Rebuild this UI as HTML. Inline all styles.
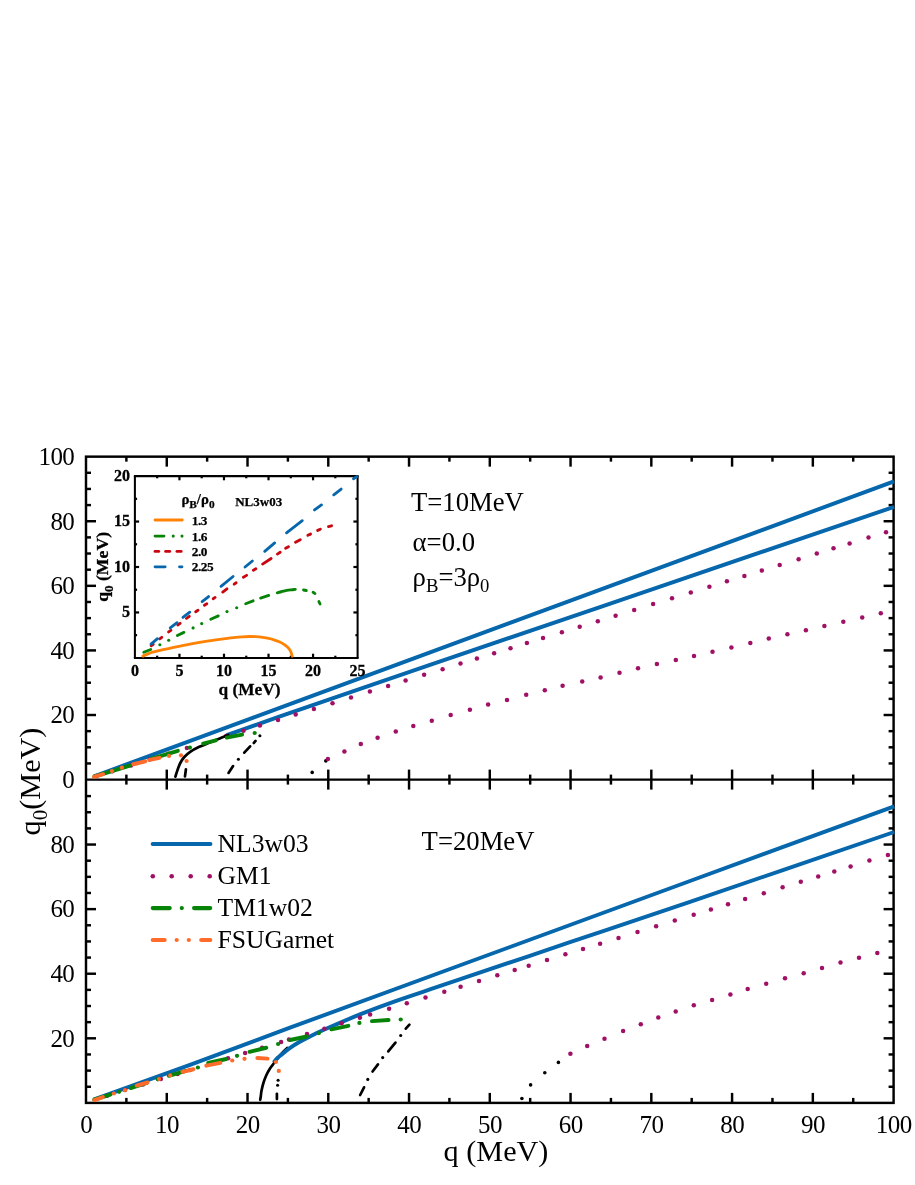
<!DOCTYPE html>
<html><head><meta charset="utf-8"><title>q0 vs q</title>
<style>html,body{margin:0;padding:0;background:#fff;}svg{display:block;will-change:transform;}text{font-family:"Liberation Serif",serif;fill:#000;}</style>
</head><body>
<svg width="915" height="1185" viewBox="0 0 915 1185">
<rect x="0" y="0" width="915" height="1185" fill="#fff"/>
<rect x="86" y="456.65" width="807.6" height="646.25" fill="none" stroke="#000" stroke-width="2.45"/>
<line x1="86" y1="779.6" x2="893.6" y2="779.6" stroke="#000" stroke-width="2.45" stroke-linecap="butt"/>
<line x1="126.38" y1="456.65" x2="126.38" y2="461.65" stroke="#000" stroke-width="2.45" stroke-linecap="butt"/>
<line x1="126.38" y1="774.6" x2="126.38" y2="784.6" stroke="#000" stroke-width="2.45" stroke-linecap="butt"/>
<line x1="126.38" y1="1097.9" x2="126.38" y2="1102.9" stroke="#000" stroke-width="2.45" stroke-linecap="butt"/>
<line x1="166.76" y1="456.65" x2="166.76" y2="466.65" stroke="#000" stroke-width="2.45" stroke-linecap="butt"/>
<line x1="166.76" y1="769.6" x2="166.76" y2="789.6" stroke="#000" stroke-width="2.45" stroke-linecap="butt"/>
<line x1="166.76" y1="1092.9" x2="166.76" y2="1102.9" stroke="#000" stroke-width="2.45" stroke-linecap="butt"/>
<line x1="207.14" y1="456.65" x2="207.14" y2="461.65" stroke="#000" stroke-width="2.45" stroke-linecap="butt"/>
<line x1="207.14" y1="774.6" x2="207.14" y2="784.6" stroke="#000" stroke-width="2.45" stroke-linecap="butt"/>
<line x1="207.14" y1="1097.9" x2="207.14" y2="1102.9" stroke="#000" stroke-width="2.45" stroke-linecap="butt"/>
<line x1="247.52" y1="456.65" x2="247.52" y2="466.65" stroke="#000" stroke-width="2.45" stroke-linecap="butt"/>
<line x1="247.52" y1="769.6" x2="247.52" y2="789.6" stroke="#000" stroke-width="2.45" stroke-linecap="butt"/>
<line x1="247.52" y1="1092.9" x2="247.52" y2="1102.9" stroke="#000" stroke-width="2.45" stroke-linecap="butt"/>
<line x1="287.9" y1="456.65" x2="287.9" y2="461.65" stroke="#000" stroke-width="2.45" stroke-linecap="butt"/>
<line x1="287.9" y1="774.6" x2="287.9" y2="784.6" stroke="#000" stroke-width="2.45" stroke-linecap="butt"/>
<line x1="287.9" y1="1097.9" x2="287.9" y2="1102.9" stroke="#000" stroke-width="2.45" stroke-linecap="butt"/>
<line x1="328.28" y1="456.65" x2="328.28" y2="466.65" stroke="#000" stroke-width="2.45" stroke-linecap="butt"/>
<line x1="328.28" y1="769.6" x2="328.28" y2="789.6" stroke="#000" stroke-width="2.45" stroke-linecap="butt"/>
<line x1="328.28" y1="1092.9" x2="328.28" y2="1102.9" stroke="#000" stroke-width="2.45" stroke-linecap="butt"/>
<line x1="368.66" y1="456.65" x2="368.66" y2="461.65" stroke="#000" stroke-width="2.45" stroke-linecap="butt"/>
<line x1="368.66" y1="774.6" x2="368.66" y2="784.6" stroke="#000" stroke-width="2.45" stroke-linecap="butt"/>
<line x1="368.66" y1="1097.9" x2="368.66" y2="1102.9" stroke="#000" stroke-width="2.45" stroke-linecap="butt"/>
<line x1="409.04" y1="456.65" x2="409.04" y2="466.65" stroke="#000" stroke-width="2.45" stroke-linecap="butt"/>
<line x1="409.04" y1="769.6" x2="409.04" y2="789.6" stroke="#000" stroke-width="2.45" stroke-linecap="butt"/>
<line x1="409.04" y1="1092.9" x2="409.04" y2="1102.9" stroke="#000" stroke-width="2.45" stroke-linecap="butt"/>
<line x1="449.42" y1="456.65" x2="449.42" y2="461.65" stroke="#000" stroke-width="2.45" stroke-linecap="butt"/>
<line x1="449.42" y1="774.6" x2="449.42" y2="784.6" stroke="#000" stroke-width="2.45" stroke-linecap="butt"/>
<line x1="449.42" y1="1097.9" x2="449.42" y2="1102.9" stroke="#000" stroke-width="2.45" stroke-linecap="butt"/>
<line x1="489.8" y1="456.65" x2="489.8" y2="466.65" stroke="#000" stroke-width="2.45" stroke-linecap="butt"/>
<line x1="489.8" y1="769.6" x2="489.8" y2="789.6" stroke="#000" stroke-width="2.45" stroke-linecap="butt"/>
<line x1="489.8" y1="1092.9" x2="489.8" y2="1102.9" stroke="#000" stroke-width="2.45" stroke-linecap="butt"/>
<line x1="530.18" y1="456.65" x2="530.18" y2="461.65" stroke="#000" stroke-width="2.45" stroke-linecap="butt"/>
<line x1="530.18" y1="774.6" x2="530.18" y2="784.6" stroke="#000" stroke-width="2.45" stroke-linecap="butt"/>
<line x1="530.18" y1="1097.9" x2="530.18" y2="1102.9" stroke="#000" stroke-width="2.45" stroke-linecap="butt"/>
<line x1="570.56" y1="456.65" x2="570.56" y2="466.65" stroke="#000" stroke-width="2.45" stroke-linecap="butt"/>
<line x1="570.56" y1="769.6" x2="570.56" y2="789.6" stroke="#000" stroke-width="2.45" stroke-linecap="butt"/>
<line x1="570.56" y1="1092.9" x2="570.56" y2="1102.9" stroke="#000" stroke-width="2.45" stroke-linecap="butt"/>
<line x1="610.94" y1="456.65" x2="610.94" y2="461.65" stroke="#000" stroke-width="2.45" stroke-linecap="butt"/>
<line x1="610.94" y1="774.6" x2="610.94" y2="784.6" stroke="#000" stroke-width="2.45" stroke-linecap="butt"/>
<line x1="610.94" y1="1097.9" x2="610.94" y2="1102.9" stroke="#000" stroke-width="2.45" stroke-linecap="butt"/>
<line x1="651.32" y1="456.65" x2="651.32" y2="466.65" stroke="#000" stroke-width="2.45" stroke-linecap="butt"/>
<line x1="651.32" y1="769.6" x2="651.32" y2="789.6" stroke="#000" stroke-width="2.45" stroke-linecap="butt"/>
<line x1="651.32" y1="1092.9" x2="651.32" y2="1102.9" stroke="#000" stroke-width="2.45" stroke-linecap="butt"/>
<line x1="691.7" y1="456.65" x2="691.7" y2="461.65" stroke="#000" stroke-width="2.45" stroke-linecap="butt"/>
<line x1="691.7" y1="774.6" x2="691.7" y2="784.6" stroke="#000" stroke-width="2.45" stroke-linecap="butt"/>
<line x1="691.7" y1="1097.9" x2="691.7" y2="1102.9" stroke="#000" stroke-width="2.45" stroke-linecap="butt"/>
<line x1="732.08" y1="456.65" x2="732.08" y2="466.65" stroke="#000" stroke-width="2.45" stroke-linecap="butt"/>
<line x1="732.08" y1="769.6" x2="732.08" y2="789.6" stroke="#000" stroke-width="2.45" stroke-linecap="butt"/>
<line x1="732.08" y1="1092.9" x2="732.08" y2="1102.9" stroke="#000" stroke-width="2.45" stroke-linecap="butt"/>
<line x1="772.46" y1="456.65" x2="772.46" y2="461.65" stroke="#000" stroke-width="2.45" stroke-linecap="butt"/>
<line x1="772.46" y1="774.6" x2="772.46" y2="784.6" stroke="#000" stroke-width="2.45" stroke-linecap="butt"/>
<line x1="772.46" y1="1097.9" x2="772.46" y2="1102.9" stroke="#000" stroke-width="2.45" stroke-linecap="butt"/>
<line x1="812.84" y1="456.65" x2="812.84" y2="466.65" stroke="#000" stroke-width="2.45" stroke-linecap="butt"/>
<line x1="812.84" y1="769.6" x2="812.84" y2="789.6" stroke="#000" stroke-width="2.45" stroke-linecap="butt"/>
<line x1="812.84" y1="1092.9" x2="812.84" y2="1102.9" stroke="#000" stroke-width="2.45" stroke-linecap="butt"/>
<line x1="853.22" y1="456.65" x2="853.22" y2="461.65" stroke="#000" stroke-width="2.45" stroke-linecap="butt"/>
<line x1="853.22" y1="774.6" x2="853.22" y2="784.6" stroke="#000" stroke-width="2.45" stroke-linecap="butt"/>
<line x1="853.22" y1="1097.9" x2="853.22" y2="1102.9" stroke="#000" stroke-width="2.45" stroke-linecap="butt"/>
<line x1="86" y1="763.45" x2="91" y2="763.45" stroke="#000" stroke-width="2.45" stroke-linecap="butt"/>
<line x1="888.6" y1="763.45" x2="893.6" y2="763.45" stroke="#000" stroke-width="2.45" stroke-linecap="butt"/>
<line x1="86" y1="747.31" x2="91" y2="747.31" stroke="#000" stroke-width="2.45" stroke-linecap="butt"/>
<line x1="888.6" y1="747.31" x2="893.6" y2="747.31" stroke="#000" stroke-width="2.45" stroke-linecap="butt"/>
<line x1="86" y1="731.16" x2="91" y2="731.16" stroke="#000" stroke-width="2.45" stroke-linecap="butt"/>
<line x1="888.6" y1="731.16" x2="893.6" y2="731.16" stroke="#000" stroke-width="2.45" stroke-linecap="butt"/>
<line x1="86" y1="715.01" x2="96" y2="715.01" stroke="#000" stroke-width="2.45" stroke-linecap="butt"/>
<line x1="883.6" y1="715.01" x2="893.6" y2="715.01" stroke="#000" stroke-width="2.45" stroke-linecap="butt"/>
<line x1="86" y1="698.86" x2="91" y2="698.86" stroke="#000" stroke-width="2.45" stroke-linecap="butt"/>
<line x1="888.6" y1="698.86" x2="893.6" y2="698.86" stroke="#000" stroke-width="2.45" stroke-linecap="butt"/>
<line x1="86" y1="682.72" x2="91" y2="682.72" stroke="#000" stroke-width="2.45" stroke-linecap="butt"/>
<line x1="888.6" y1="682.72" x2="893.6" y2="682.72" stroke="#000" stroke-width="2.45" stroke-linecap="butt"/>
<line x1="86" y1="666.57" x2="91" y2="666.57" stroke="#000" stroke-width="2.45" stroke-linecap="butt"/>
<line x1="888.6" y1="666.57" x2="893.6" y2="666.57" stroke="#000" stroke-width="2.45" stroke-linecap="butt"/>
<line x1="86" y1="650.42" x2="96" y2="650.42" stroke="#000" stroke-width="2.45" stroke-linecap="butt"/>
<line x1="883.6" y1="650.42" x2="893.6" y2="650.42" stroke="#000" stroke-width="2.45" stroke-linecap="butt"/>
<line x1="86" y1="634.27" x2="91" y2="634.27" stroke="#000" stroke-width="2.45" stroke-linecap="butt"/>
<line x1="888.6" y1="634.27" x2="893.6" y2="634.27" stroke="#000" stroke-width="2.45" stroke-linecap="butt"/>
<line x1="86" y1="618.12" x2="91" y2="618.12" stroke="#000" stroke-width="2.45" stroke-linecap="butt"/>
<line x1="888.6" y1="618.12" x2="893.6" y2="618.12" stroke="#000" stroke-width="2.45" stroke-linecap="butt"/>
<line x1="86" y1="601.98" x2="91" y2="601.98" stroke="#000" stroke-width="2.45" stroke-linecap="butt"/>
<line x1="888.6" y1="601.98" x2="893.6" y2="601.98" stroke="#000" stroke-width="2.45" stroke-linecap="butt"/>
<line x1="86" y1="585.83" x2="96" y2="585.83" stroke="#000" stroke-width="2.45" stroke-linecap="butt"/>
<line x1="883.6" y1="585.83" x2="893.6" y2="585.83" stroke="#000" stroke-width="2.45" stroke-linecap="butt"/>
<line x1="86" y1="569.68" x2="91" y2="569.68" stroke="#000" stroke-width="2.45" stroke-linecap="butt"/>
<line x1="888.6" y1="569.68" x2="893.6" y2="569.68" stroke="#000" stroke-width="2.45" stroke-linecap="butt"/>
<line x1="86" y1="553.53" x2="91" y2="553.53" stroke="#000" stroke-width="2.45" stroke-linecap="butt"/>
<line x1="888.6" y1="553.53" x2="893.6" y2="553.53" stroke="#000" stroke-width="2.45" stroke-linecap="butt"/>
<line x1="86" y1="537.39" x2="91" y2="537.39" stroke="#000" stroke-width="2.45" stroke-linecap="butt"/>
<line x1="888.6" y1="537.39" x2="893.6" y2="537.39" stroke="#000" stroke-width="2.45" stroke-linecap="butt"/>
<line x1="86" y1="521.24" x2="96" y2="521.24" stroke="#000" stroke-width="2.45" stroke-linecap="butt"/>
<line x1="883.6" y1="521.24" x2="893.6" y2="521.24" stroke="#000" stroke-width="2.45" stroke-linecap="butt"/>
<line x1="86" y1="505.09" x2="91" y2="505.09" stroke="#000" stroke-width="2.45" stroke-linecap="butt"/>
<line x1="888.6" y1="505.09" x2="893.6" y2="505.09" stroke="#000" stroke-width="2.45" stroke-linecap="butt"/>
<line x1="86" y1="488.94" x2="91" y2="488.94" stroke="#000" stroke-width="2.45" stroke-linecap="butt"/>
<line x1="888.6" y1="488.94" x2="893.6" y2="488.94" stroke="#000" stroke-width="2.45" stroke-linecap="butt"/>
<line x1="86" y1="472.8" x2="91" y2="472.8" stroke="#000" stroke-width="2.45" stroke-linecap="butt"/>
<line x1="888.6" y1="472.8" x2="893.6" y2="472.8" stroke="#000" stroke-width="2.45" stroke-linecap="butt"/>
<line x1="86" y1="1086.75" x2="91" y2="1086.75" stroke="#000" stroke-width="2.45" stroke-linecap="butt"/>
<line x1="888.6" y1="1086.75" x2="893.6" y2="1086.75" stroke="#000" stroke-width="2.45" stroke-linecap="butt"/>
<line x1="86" y1="1070.61" x2="91" y2="1070.61" stroke="#000" stroke-width="2.45" stroke-linecap="butt"/>
<line x1="888.6" y1="1070.61" x2="893.6" y2="1070.61" stroke="#000" stroke-width="2.45" stroke-linecap="butt"/>
<line x1="86" y1="1054.46" x2="91" y2="1054.46" stroke="#000" stroke-width="2.45" stroke-linecap="butt"/>
<line x1="888.6" y1="1054.46" x2="893.6" y2="1054.46" stroke="#000" stroke-width="2.45" stroke-linecap="butt"/>
<line x1="86" y1="1038.31" x2="96" y2="1038.31" stroke="#000" stroke-width="2.45" stroke-linecap="butt"/>
<line x1="883.6" y1="1038.31" x2="893.6" y2="1038.31" stroke="#000" stroke-width="2.45" stroke-linecap="butt"/>
<line x1="86" y1="1022.16" x2="91" y2="1022.16" stroke="#000" stroke-width="2.45" stroke-linecap="butt"/>
<line x1="888.6" y1="1022.16" x2="893.6" y2="1022.16" stroke="#000" stroke-width="2.45" stroke-linecap="butt"/>
<line x1="86" y1="1006.02" x2="91" y2="1006.02" stroke="#000" stroke-width="2.45" stroke-linecap="butt"/>
<line x1="888.6" y1="1006.02" x2="893.6" y2="1006.02" stroke="#000" stroke-width="2.45" stroke-linecap="butt"/>
<line x1="86" y1="989.87" x2="91" y2="989.87" stroke="#000" stroke-width="2.45" stroke-linecap="butt"/>
<line x1="888.6" y1="989.87" x2="893.6" y2="989.87" stroke="#000" stroke-width="2.45" stroke-linecap="butt"/>
<line x1="86" y1="973.72" x2="96" y2="973.72" stroke="#000" stroke-width="2.45" stroke-linecap="butt"/>
<line x1="883.6" y1="973.72" x2="893.6" y2="973.72" stroke="#000" stroke-width="2.45" stroke-linecap="butt"/>
<line x1="86" y1="957.57" x2="91" y2="957.57" stroke="#000" stroke-width="2.45" stroke-linecap="butt"/>
<line x1="888.6" y1="957.57" x2="893.6" y2="957.57" stroke="#000" stroke-width="2.45" stroke-linecap="butt"/>
<line x1="86" y1="941.43" x2="91" y2="941.43" stroke="#000" stroke-width="2.45" stroke-linecap="butt"/>
<line x1="888.6" y1="941.43" x2="893.6" y2="941.43" stroke="#000" stroke-width="2.45" stroke-linecap="butt"/>
<line x1="86" y1="925.28" x2="91" y2="925.28" stroke="#000" stroke-width="2.45" stroke-linecap="butt"/>
<line x1="888.6" y1="925.28" x2="893.6" y2="925.28" stroke="#000" stroke-width="2.45" stroke-linecap="butt"/>
<line x1="86" y1="909.13" x2="96" y2="909.13" stroke="#000" stroke-width="2.45" stroke-linecap="butt"/>
<line x1="883.6" y1="909.13" x2="893.6" y2="909.13" stroke="#000" stroke-width="2.45" stroke-linecap="butt"/>
<line x1="86" y1="892.98" x2="91" y2="892.98" stroke="#000" stroke-width="2.45" stroke-linecap="butt"/>
<line x1="888.6" y1="892.98" x2="893.6" y2="892.98" stroke="#000" stroke-width="2.45" stroke-linecap="butt"/>
<line x1="86" y1="876.84" x2="91" y2="876.84" stroke="#000" stroke-width="2.45" stroke-linecap="butt"/>
<line x1="888.6" y1="876.84" x2="893.6" y2="876.84" stroke="#000" stroke-width="2.45" stroke-linecap="butt"/>
<line x1="86" y1="860.69" x2="91" y2="860.69" stroke="#000" stroke-width="2.45" stroke-linecap="butt"/>
<line x1="888.6" y1="860.69" x2="893.6" y2="860.69" stroke="#000" stroke-width="2.45" stroke-linecap="butt"/>
<line x1="86" y1="844.54" x2="96" y2="844.54" stroke="#000" stroke-width="2.45" stroke-linecap="butt"/>
<line x1="883.6" y1="844.54" x2="893.6" y2="844.54" stroke="#000" stroke-width="2.45" stroke-linecap="butt"/>
<line x1="86" y1="828.39" x2="91" y2="828.39" stroke="#000" stroke-width="2.45" stroke-linecap="butt"/>
<line x1="888.6" y1="828.39" x2="893.6" y2="828.39" stroke="#000" stroke-width="2.45" stroke-linecap="butt"/>
<line x1="86" y1="812.25" x2="91" y2="812.25" stroke="#000" stroke-width="2.45" stroke-linecap="butt"/>
<line x1="888.6" y1="812.25" x2="893.6" y2="812.25" stroke="#000" stroke-width="2.45" stroke-linecap="butt"/>
<line x1="86" y1="796.1" x2="91" y2="796.1" stroke="#000" stroke-width="2.45" stroke-linecap="butt"/>
<line x1="888.6" y1="796.1" x2="893.6" y2="796.1" stroke="#000" stroke-width="2.45" stroke-linecap="butt"/>
<polyline points="93.6,776.5 894,481.4" fill="none" stroke="#0667ad" stroke-width="3.95" stroke-linecap="butt" stroke-linejoin="round" />
<polyline points="226.5,735.3 228.2,734.7 280,716.3 430,664.9 600,607.1 894,506.9" fill="none" stroke="#0667ad" stroke-width="3.95" stroke-linecap="butt" stroke-linejoin="round" />
<circle cx="96.5" cy="776.05" r="2.25" fill="#a01065"/>
<circle cx="112.3" cy="771.17" r="2.25" fill="#a01065"/>
<circle cx="131" cy="765.39" r="2.25" fill="#a01065"/>
<circle cx="149.7" cy="759.62" r="2.25" fill="#a01065"/>
<circle cx="168.4" cy="753.84" r="2.25" fill="#a01065"/>
<circle cx="186.9" cy="748.12" r="2.25" fill="#a01065"/>
<circle cx="226.2" cy="735.98" r="2.25" fill="#a01065"/>
<circle cx="243.5" cy="730.64" r="2.25" fill="#a01065"/>
<circle cx="259.9" cy="725.57" r="2.25" fill="#a01065"/>
<circle cx="278" cy="719.98" r="2.25" fill="#a01065"/>
<circle cx="295.7" cy="714.51" r="2.25" fill="#a01065"/>
<circle cx="313.9" cy="708.89" r="2.25" fill="#a01065"/>
<circle cx="332.5" cy="703.14" r="2.25" fill="#a01065"/>
<circle cx="351" cy="697.43" r="2.25" fill="#a01065"/>
<circle cx="369.9" cy="691.59" r="2.25" fill="#a01065"/>
<circle cx="388.1" cy="685.97" r="2.25" fill="#a01065"/>
<circle cx="405.6" cy="680.56" r="2.25" fill="#a01065"/>
<circle cx="424.1" cy="674.85" r="2.25" fill="#a01065"/>
<circle cx="442.6" cy="669.13" r="2.25" fill="#a01065"/>
<circle cx="460.5" cy="663.6" r="2.25" fill="#a01065"/>
<circle cx="476.9" cy="658.53" r="2.25" fill="#a01065"/>
<circle cx="494.1" cy="653.22" r="2.25" fill="#a01065"/>
<circle cx="510.5" cy="648.15" r="2.25" fill="#a01065"/>
<circle cx="526.9" cy="643.09" r="2.25" fill="#a01065"/>
<circle cx="543" cy="638.11" r="2.25" fill="#a01065"/>
<circle cx="561.9" cy="632.28" r="2.25" fill="#a01065"/>
<circle cx="579.7" cy="626.78" r="2.25" fill="#a01065"/>
<circle cx="597.8" cy="621.18" r="2.25" fill="#a01065"/>
<circle cx="615.6" cy="615.69" r="2.25" fill="#a01065"/>
<circle cx="634.2" cy="609.94" r="2.25" fill="#a01065"/>
<circle cx="653.1" cy="604.1" r="2.25" fill="#a01065"/>
<circle cx="672" cy="598.26" r="2.25" fill="#a01065"/>
<circle cx="690.8" cy="592.45" r="2.25" fill="#a01065"/>
<circle cx="709.4" cy="586.71" r="2.25" fill="#a01065"/>
<circle cx="726.9" cy="581.3" r="2.25" fill="#a01065"/>
<circle cx="744.4" cy="575.89" r="2.25" fill="#a01065"/>
<circle cx="761.8" cy="570.52" r="2.25" fill="#a01065"/>
<circle cx="779.7" cy="564.99" r="2.25" fill="#a01065"/>
<circle cx="798.6" cy="559.15" r="2.25" fill="#a01065"/>
<circle cx="816.8" cy="553.53" r="2.25" fill="#a01065"/>
<circle cx="833.5" cy="548.37" r="2.25" fill="#a01065"/>
<circle cx="849.6" cy="543.4" r="2.25" fill="#a01065"/>
<circle cx="868.5" cy="537.56" r="2.25" fill="#a01065"/>
<circle cx="886" cy="532.15" r="2.25" fill="#a01065"/>
<circle cx="312.2" cy="772.4" r="1.8" fill="#000"/>
<circle cx="325.8" cy="760.9" r="1.8" fill="#000"/>
<circle cx="327.9" cy="759.1" r="2.25" fill="#a01065"/>
<circle cx="344.4" cy="751.5" r="2.25" fill="#a01065"/>
<circle cx="360.8" cy="744.1" r="2.25" fill="#a01065"/>
<circle cx="377.6" cy="737.8" r="2.25" fill="#a01065"/>
<circle cx="395.8" cy="731.5" r="2.25" fill="#a01065"/>
<circle cx="413.3" cy="725.9" r="2.25" fill="#a01065"/>
<circle cx="431.8" cy="720.7" r="2.25" fill="#a01065"/>
<circle cx="450.7" cy="715.1" r="2.25" fill="#a01065"/>
<circle cx="469.9" cy="709.8" r="2.25" fill="#a01065"/>
<circle cx="488.1" cy="704.6" r="2.25" fill="#a01065"/>
<circle cx="507" cy="700" r="2.25" fill="#a01065"/>
<circle cx="526.2" cy="694.8" r="2.25" fill="#a01065"/>
<circle cx="544.8" cy="690.2" r="2.25" fill="#a01065"/>
<circle cx="562.6" cy="685.7" r="2.25" fill="#a01065"/>
<circle cx="582.2" cy="681.5" r="2.25" fill="#a01065"/>
<circle cx="600.6" cy="677.5" r="2.25" fill="#a01065"/>
<circle cx="619.5" cy="672.8" r="2.25" fill="#a01065"/>
<circle cx="638" cy="668.3" r="2.25" fill="#a01065"/>
<circle cx="656.9" cy="663.9" r="2.25" fill="#a01065"/>
<circle cx="675.8" cy="659.9" r="2.25" fill="#a01065"/>
<circle cx="694" cy="656" r="2.25" fill="#a01065"/>
<circle cx="712.5" cy="651.8" r="2.25" fill="#a01065"/>
<circle cx="731.4" cy="647.5" r="2.25" fill="#a01065"/>
<circle cx="750.3" cy="642.9" r="2.25" fill="#a01065"/>
<circle cx="768.8" cy="638.6" r="2.25" fill="#a01065"/>
<circle cx="787.4" cy="634.3" r="2.25" fill="#a01065"/>
<circle cx="805.9" cy="630.3" r="2.25" fill="#a01065"/>
<circle cx="824.4" cy="626" r="2.25" fill="#a01065"/>
<circle cx="843.3" cy="621.7" r="2.25" fill="#a01065"/>
<circle cx="862.2" cy="617.5" r="2.25" fill="#a01065"/>
<circle cx="880.8" cy="613.3" r="2.25" fill="#a01065"/>
<path d="M175.4,776.6 C175.48,776.33 175.52,776.18 175.9,775 C176.28,773.82 176.97,771.5 177.7,769.5 C178.43,767.5 179.2,765.08 180.3,763 C181.4,760.92 182.65,758.87 184.3,757 C185.95,755.13 187.7,753.5 190.2,751.8 C192.7,750.1 196.03,748.35 199.3,746.8 C202.57,745.25 206.3,743.93 209.8,742.5 C213.3,741.07 217.23,739.45 220.3,738.2 C223.37,736.95 226.88,735.53 228.2,735" fill="none" stroke="#000" stroke-width="2.7" stroke-linecap="round" stroke-linejoin="round"/>
<line x1="184.97" y1="776.35" x2="185.93" y2="769.25" stroke="#000" stroke-width="2.7" stroke-linecap="round"/>
<circle cx="259.9" cy="735.7" r="1.55" fill="#000"/>
<line x1="255.55" y1="740.92" x2="253.85" y2="742.98" stroke="#000" stroke-width="2.7" stroke-linecap="round"/>
<line x1="250.13" y1="746.31" x2="244.27" y2="752.69" stroke="#000" stroke-width="2.7" stroke-linecap="round"/>
<circle cx="238.4" cy="759.3" r="1.55" fill="#000"/>
<line x1="233.09" y1="766.06" x2="228.51" y2="772.94" stroke="#000" stroke-width="2.7" stroke-linecap="round"/>
<line x1="94.12" y1="776.65" x2="129.88" y2="765.65" stroke="#078307" stroke-width="3.95" stroke-linecap="round"/>
<line x1="151.13" y1="758.86" x2="177.87" y2="750.84" stroke="#078307" stroke-width="3.95" stroke-linecap="round"/>
<circle cx="189.9" cy="747.6" r="2.12" fill="#078307"/>
<line x1="203.14" y1="743.6" x2="215.86" y2="740.3" stroke="#078307" stroke-width="3.95" stroke-linecap="round"/>
<line x1="226.75" y1="737.58" x2="242.15" y2="734.62" stroke="#078307" stroke-width="3.95" stroke-linecap="round"/>
<circle cx="254.7" cy="733" r="2.12" fill="#078307"/>
<line x1="94.02" y1="776.95" x2="103.08" y2="774.15" stroke="#ff6b2a" stroke-width="3.95" stroke-linecap="round"/>
<circle cx="112" cy="771.1" r="2.12" fill="#ff6b2a"/>
<circle cx="121.9" cy="767.7" r="2.12" fill="#ff6b2a"/>
<line x1="133.34" y1="764.23" x2="145.36" y2="761.37" stroke="#ff6b2a" stroke-width="3.95" stroke-linecap="round"/>
<line x1="149.55" y1="759.87" x2="159.55" y2="757.83" stroke="#ff6b2a" stroke-width="3.95" stroke-linecap="round"/>
<circle cx="169" cy="755.9" r="2.12" fill="#ff6b2a"/>
<circle cx="181" cy="755.3" r="2.12" fill="#ff6b2a"/>
<circle cx="186.6" cy="761" r="2.12" fill="#ff6b2a"/>
<polyline points="93.6,1099.7 190,1064.8 290,1027.7 450,969 690,881 894.2,806.3" fill="none" stroke="#0667ad" stroke-width="3.95" stroke-linecap="butt" stroke-linejoin="round" />
<path d="M260.2,1099.8 C260.3,1099.2 260.58,1097.7 260.8,1096.2 C261.02,1094.7 261.07,1093 261.5,1090.8 C261.93,1088.6 262.63,1085.52 263.4,1083 C264.17,1080.48 265,1078.12 266.1,1075.7 C267.2,1073.28 268.7,1070.57 270,1068.5 C271.3,1066.43 272.65,1065 273.9,1063.3 C275.15,1061.6 276.18,1059.95 277.5,1058.3 C278.82,1056.65 280.18,1055.12 281.8,1053.4 C283.42,1051.68 286.3,1048.9 287.2,1048" fill="none" stroke="#000" stroke-width="2.7" stroke-linecap="round" stroke-linejoin="round"/>
<path d="M273.6,1062.6 C274.25,1061.83 276.13,1059.37 277.5,1058 C278.87,1056.63 279.77,1056.03 281.8,1054.4 C283.83,1052.77 286.85,1050.22 289.7,1048.2 C292.55,1046.18 295.52,1044.27 298.9,1042.3 C302.28,1040.33 305.65,1038.57 310,1036.4 C314.35,1034.23 316.67,1032.97 325,1029.3 C333.33,1025.63 348.35,1019.07 360,1014.4 C371.65,1009.73 379.9,1006.58 394.9,1001.3 C409.9,996.02 420.82,992.55 450,982.7 C479.18,972.85 530,955.68 570,942.2 C610,928.72 635.97,920.17 690,901.8 C744.03,883.43 860.17,843.63 894.2,832" fill="none" stroke="#0667ad" stroke-width="3.95" stroke-linecap="butt" stroke-linejoin="round"/>
<circle cx="107.1" cy="1095.64" r="2.25" fill="#a01065"/>
<circle cx="125" cy="1090.12" r="2.25" fill="#a01065"/>
<circle cx="142.9" cy="1084.6" r="2.25" fill="#a01065"/>
<circle cx="160.8" cy="1079.08" r="2.25" fill="#a01065"/>
<circle cx="177.6" cy="1073.9" r="2.25" fill="#a01065"/>
<circle cx="190" cy="1070.08" r="2.25" fill="#a01065"/>
<circle cx="211.2" cy="1063.54" r="2.25" fill="#a01065"/>
<circle cx="228" cy="1058.36" r="2.25" fill="#a01065"/>
<circle cx="245.1" cy="1053.09" r="2.25" fill="#a01065"/>
<circle cx="262.1" cy="1047.85" r="2.25" fill="#a01065"/>
<circle cx="281.1" cy="1041.99" r="2.25" fill="#a01065"/>
<circle cx="289" cy="1039.55" r="2.25" fill="#a01065"/>
<circle cx="307" cy="1034" r="2.25" fill="#a01065"/>
<circle cx="324.4" cy="1028.64" r="2.25" fill="#a01065"/>
<circle cx="341.6" cy="1023.34" r="2.25" fill="#a01065"/>
<circle cx="359.9" cy="1017.69" r="2.25" fill="#a01065"/>
<circle cx="370.1" cy="1014.55" r="2.25" fill="#a01065"/>
<circle cx="389.1" cy="1008.69" r="2.25" fill="#a01065"/>
<circle cx="406.8" cy="1003.23" r="2.25" fill="#a01065"/>
<circle cx="425.5" cy="997.47" r="2.25" fill="#a01065"/>
<circle cx="444.3" cy="991.67" r="2.25" fill="#a01065"/>
<circle cx="460.6" cy="986.65" r="2.25" fill="#a01065"/>
<circle cx="479" cy="980.97" r="2.25" fill="#a01065"/>
<circle cx="497.3" cy="975.33" r="2.25" fill="#a01065"/>
<circle cx="514.7" cy="969.97" r="2.25" fill="#a01065"/>
<circle cx="528.7" cy="965.65" r="2.25" fill="#a01065"/>
<circle cx="547" cy="960.01" r="2.25" fill="#a01065"/>
<circle cx="565.4" cy="954.33" r="2.25" fill="#a01065"/>
<circle cx="583" cy="948.91" r="2.25" fill="#a01065"/>
<circle cx="600.1" cy="943.63" r="2.25" fill="#a01065"/>
<circle cx="618.5" cy="937.96" r="2.25" fill="#a01065"/>
<circle cx="637.5" cy="932.1" r="2.25" fill="#a01065"/>
<circle cx="656.1" cy="926.37" r="2.25" fill="#a01065"/>
<circle cx="674.8" cy="920.6" r="2.25" fill="#a01065"/>
<circle cx="693.7" cy="914.78" r="2.25" fill="#a01065"/>
<circle cx="710.9" cy="909.47" r="2.25" fill="#a01065"/>
<circle cx="728" cy="904.2" r="2.25" fill="#a01065"/>
<circle cx="745.1" cy="898.93" r="2.25" fill="#a01065"/>
<circle cx="763.8" cy="893.16" r="2.25" fill="#a01065"/>
<circle cx="782.6" cy="887.37" r="2.25" fill="#a01065"/>
<circle cx="800.8" cy="881.75" r="2.25" fill="#a01065"/>
<circle cx="818.2" cy="876.39" r="2.25" fill="#a01065"/>
<circle cx="834.3" cy="871.43" r="2.25" fill="#a01065"/>
<circle cx="850.6" cy="866.4" r="2.25" fill="#a01065"/>
<circle cx="869.4" cy="860.6" r="2.25" fill="#a01065"/>
<circle cx="887.9" cy="854.9" r="2.25" fill="#a01065"/>
<circle cx="521.9" cy="1098.5" r="1.8" fill="#000"/>
<circle cx="530.6" cy="1084.9" r="1.8" fill="#000"/>
<circle cx="544.8" cy="1072.7" r="1.8" fill="#000"/>
<circle cx="558.4" cy="1062.4" r="1.8" fill="#000"/>
<circle cx="570.4" cy="1053.7" r="2.25" fill="#a01065"/>
<circle cx="587.2" cy="1046" r="2.25" fill="#a01065"/>
<circle cx="604.5" cy="1038.8" r="2.25" fill="#a01065"/>
<circle cx="623.1" cy="1030.9" r="2.25" fill="#a01065"/>
<circle cx="640.8" cy="1024.2" r="2.25" fill="#a01065"/>
<circle cx="658.3" cy="1017.6" r="2.25" fill="#a01065"/>
<circle cx="675.7" cy="1011.5" r="2.25" fill="#a01065"/>
<circle cx="693.8" cy="1005.3" r="2.25" fill="#a01065"/>
<circle cx="712.1" cy="999.9" r="2.25" fill="#a01065"/>
<circle cx="730.4" cy="994.4" r="2.25" fill="#a01065"/>
<circle cx="747.7" cy="989.1" r="2.25" fill="#a01065"/>
<circle cx="766.2" cy="983.8" r="2.25" fill="#a01065"/>
<circle cx="785" cy="978.3" r="2.25" fill="#a01065"/>
<circle cx="803.7" cy="973.2" r="2.25" fill="#a01065"/>
<circle cx="822" cy="967.9" r="2.25" fill="#a01065"/>
<circle cx="840.5" cy="962.6" r="2.25" fill="#a01065"/>
<circle cx="859" cy="957.8" r="2.25" fill="#a01065"/>
<circle cx="877.3" cy="953" r="2.25" fill="#a01065"/>
<circle cx="278.1" cy="1080.3" r="1.55" fill="#000"/>
<circle cx="277.6" cy="1085.3" r="1.55" fill="#000"/>
<line x1="276.9" y1="1093.75" x2="276.9" y2="1099.05" stroke="#000" stroke-width="2.7" stroke-linecap="round"/>
<line x1="409.43" y1="1024.71" x2="405.77" y2="1028.69" stroke="#000" stroke-width="2.7" stroke-linecap="round"/>
<circle cx="400.7" cy="1035.5" r="1.55" fill="#000"/>
<line x1="395.45" y1="1042.62" x2="388.25" y2="1051.38" stroke="#000" stroke-width="2.7" stroke-linecap="round"/>
<circle cx="382.7" cy="1057.6" r="1.55" fill="#000"/>
<line x1="377.96" y1="1064.44" x2="372.54" y2="1071.46" stroke="#000" stroke-width="2.7" stroke-linecap="round"/>
<circle cx="367.8" cy="1079.4" r="1.55" fill="#000"/>
<line x1="364.05" y1="1087.29" x2="360.15" y2="1095.01" stroke="#000" stroke-width="2.7" stroke-linecap="round"/>
<line x1="94.12" y1="1099.65" x2="110.38" y2="1094.55" stroke="#078307" stroke-width="3.95" stroke-linecap="round"/>
<circle cx="119.1" cy="1091.8" r="2.12" fill="#078307"/>
<line x1="130.72" y1="1088.05" x2="146.88" y2="1082.95" stroke="#078307" stroke-width="3.95" stroke-linecap="round"/>
<circle cx="157.8" cy="1079.3" r="2.12" fill="#078307"/>
<line x1="168.73" y1="1075.78" x2="185.87" y2="1070.92" stroke="#078307" stroke-width="3.95" stroke-linecap="round"/>
<circle cx="197.9" cy="1067.5" r="2.12" fill="#078307"/>
<line x1="208.15" y1="1063.04" x2="226.25" y2="1058.96" stroke="#078307" stroke-width="3.95" stroke-linecap="round"/>
<circle cx="237" cy="1055.8" r="2.12" fill="#078307"/>
<line x1="249.54" y1="1051.82" x2="266.26" y2="1047.78" stroke="#078307" stroke-width="3.95" stroke-linecap="round"/>
<circle cx="278.1" cy="1044" r="2.12" fill="#078307"/>
<line x1="290.15" y1="1040.05" x2="306.85" y2="1036.45" stroke="#078307" stroke-width="3.95" stroke-linecap="round"/>
<circle cx="318.9" cy="1033.1" r="2.12" fill="#078307"/>
<line x1="331.35" y1="1029.36" x2="348.35" y2="1025.84" stroke="#078307" stroke-width="3.95" stroke-linecap="round"/>
<circle cx="359.4" cy="1022.9" r="2.12" fill="#078307"/>
<line x1="371.97" y1="1021.13" x2="388.53" y2="1020.07" stroke="#078307" stroke-width="3.95" stroke-linecap="round"/>
<circle cx="400.7" cy="1019.5" r="2.12" fill="#078307"/>
<line x1="94.31" y1="1100.02" x2="102.89" y2="1097.08" stroke="#ff6b2a" stroke-width="3.95" stroke-linecap="round"/>
<circle cx="113.9" cy="1093.5" r="2.12" fill="#ff6b2a"/>
<circle cx="125" cy="1090.2" r="2.12" fill="#ff6b2a"/>
<line x1="136.63" y1="1085.58" x2="147.47" y2="1082.52" stroke="#ff6b2a" stroke-width="3.95" stroke-linecap="round"/>
<circle cx="159.1" cy="1079.1" r="2.12" fill="#ff6b2a"/>
<circle cx="170.2" cy="1075.4" r="2.12" fill="#ff6b2a"/>
<line x1="182.54" y1="1071.83" x2="193.46" y2="1069.27" stroke="#ff6b2a" stroke-width="3.95" stroke-linecap="round"/>
<line x1="206.25" y1="1065.67" x2="220.35" y2="1062.83" stroke="#ff6b2a" stroke-width="3.95" stroke-linecap="round"/>
<circle cx="232.2" cy="1060.5" r="2.12" fill="#ff6b2a"/>
<circle cx="244.5" cy="1058.8" r="2.12" fill="#ff6b2a"/>
<line x1="257.37" y1="1058.07" x2="267.53" y2="1058.63" stroke="#ff6b2a" stroke-width="3.95" stroke-linecap="round"/>
<circle cx="275.9" cy="1062" r="2.12" fill="#ff6b2a"/>
<circle cx="278.8" cy="1070.9" r="2.12" fill="#ff6b2a"/>
<text x="86.25" y="1133.2" font-size="25" text-anchor="middle" font-weight="normal" letter-spacing="-0.5">0</text>
<text x="167.01" y="1133.2" font-size="25" text-anchor="middle" font-weight="normal" letter-spacing="-0.5">10</text>
<text x="247.77" y="1133.2" font-size="25" text-anchor="middle" font-weight="normal" letter-spacing="-0.5">20</text>
<text x="328.53" y="1133.2" font-size="25" text-anchor="middle" font-weight="normal" letter-spacing="-0.5">30</text>
<text x="409.29" y="1133.2" font-size="25" text-anchor="middle" font-weight="normal" letter-spacing="-0.5">40</text>
<text x="490.05" y="1133.2" font-size="25" text-anchor="middle" font-weight="normal" letter-spacing="-0.5">50</text>
<text x="570.81" y="1133.2" font-size="25" text-anchor="middle" font-weight="normal" letter-spacing="-0.5">60</text>
<text x="651.57" y="1133.2" font-size="25" text-anchor="middle" font-weight="normal" letter-spacing="-0.5">70</text>
<text x="732.33" y="1133.2" font-size="25" text-anchor="middle" font-weight="normal" letter-spacing="-0.5">80</text>
<text x="813.09" y="1133.2" font-size="25" text-anchor="middle" font-weight="normal" letter-spacing="-0.5">90</text>
<text x="893.85" y="1133.2" font-size="25" text-anchor="middle" font-weight="normal" letter-spacing="-0.5">100</text>
<text x="74.2" y="787.9" font-size="25" text-anchor="end" font-weight="normal" letter-spacing="-0.6">0</text>
<text x="74.2" y="723.31" font-size="25" text-anchor="end" font-weight="normal" letter-spacing="-0.6">20</text>
<text x="74.2" y="658.72" font-size="25" text-anchor="end" font-weight="normal" letter-spacing="-0.6">40</text>
<text x="74.2" y="594.13" font-size="25" text-anchor="end" font-weight="normal" letter-spacing="-0.6">60</text>
<text x="74.2" y="529.54" font-size="25" text-anchor="end" font-weight="normal" letter-spacing="-0.6">80</text>
<text x="74.2" y="464.95" font-size="25" text-anchor="end" font-weight="normal" letter-spacing="-0.6">100</text>
<text x="74.2" y="1046.61" font-size="25" text-anchor="end" font-weight="normal" letter-spacing="-0.6">20</text>
<text x="74.2" y="982.02" font-size="25" text-anchor="end" font-weight="normal" letter-spacing="-0.6">40</text>
<text x="74.2" y="917.43" font-size="25" text-anchor="end" font-weight="normal" letter-spacing="-0.6">60</text>
<text x="74.2" y="852.84" font-size="25" text-anchor="end" font-weight="normal" letter-spacing="-0.6">80</text>
<text x="496" y="1160.6" font-size="30.2" text-anchor="middle" font-weight="normal" >q (MeV)</text>
<text transform="translate(40.2,781.5) rotate(-90)" font-size="30.2" text-anchor="middle">q<tspan font-size="21.14" dy="7.2">0</tspan><tspan dy="-7.2">(MeV)</tspan></text>
<text x="411" y="511.4" font-size="26.7" text-anchor="start" font-weight="normal" >T=10MeV</text>
<text x="412.6" y="551.4" font-size="26.7" text-anchor="start" font-weight="normal" >&#945;=0.0</text>
<text x="412.6" y="585.5" font-size="26.7">&#961;<tspan font-size="18.69" dy="6.5">B</tspan><tspan dy="-6.5">=3&#961;</tspan><tspan font-size="18.69" dy="6.5">0</tspan></text>
<text x="421.6" y="849.9" font-size="26.7" text-anchor="start" font-weight="normal" >T=20MeV</text>
<line x1="152.7" y1="844" x2="210.4" y2="844" stroke="#0667ad" stroke-width="4.05" stroke-linecap="round"/>
<circle cx="152.8" cy="876.2" r="2.3" fill="#a01065"/>
<circle cx="171.7" cy="876.2" r="2.3" fill="#a01065"/>
<circle cx="190.7" cy="876.2" r="2.3" fill="#a01065"/>
<circle cx="209.7" cy="876.2" r="2.3" fill="#a01065"/>
<line x1="152.72" y1="908.1" x2="169.78" y2="908.1" stroke="#078307" stroke-width="4.05" stroke-linecap="round"/>
<circle cx="181.8" cy="908.1" r="2.12" fill="#078307"/>
<line x1="194.03" y1="908.1" x2="210.28" y2="908.1" stroke="#078307" stroke-width="4.05" stroke-linecap="round"/>
<line x1="152.72" y1="940" x2="164.67" y2="940" stroke="#ff6b2a" stroke-width="4.05" stroke-linecap="round"/>
<circle cx="176.7" cy="940" r="2.12" fill="#ff6b2a"/>
<circle cx="188.8" cy="940" r="2.12" fill="#ff6b2a"/>
<line x1="201.22" y1="940" x2="210.28" y2="940" stroke="#ff6b2a" stroke-width="4.05" stroke-linecap="round"/>
<text x="217.6" y="852.2" font-size="25.6" text-anchor="start" font-weight="normal" >NL3w03</text>
<text x="217.6" y="884.4" font-size="25.6" text-anchor="start" font-weight="normal" >GM1</text>
<text x="217.6" y="916.4" font-size="25.6" text-anchor="start" font-weight="normal" >TM1w02</text>
<text x="217.6" y="947.8" font-size="25.6" text-anchor="start" font-weight="normal" >FSUGarnet</text>
<line x1="133.88" y1="476.1" x2="358.62" y2="476.1" stroke="#000" stroke-width="2.05" stroke-linecap="butt"/>
<line x1="133.88" y1="657.9" x2="358.62" y2="657.9" stroke="#000" stroke-width="2.05" stroke-linecap="butt"/>
<line x1="134.9" y1="476.1" x2="134.9" y2="657.9" stroke="#000" stroke-width="2.05" stroke-linecap="butt"/>
<line x1="357.6" y1="476.1" x2="357.6" y2="657.9" stroke="#000" stroke-width="2.05" stroke-linecap="butt"/>
<line x1="157.17" y1="476.1" x2="157.17" y2="478.3" stroke="#000" stroke-width="2.2" stroke-linecap="butt"/>
<line x1="157.17" y1="655.7" x2="157.17" y2="657.9" stroke="#000" stroke-width="2.2" stroke-linecap="butt"/>
<line x1="179.44" y1="476.1" x2="179.44" y2="480.3" stroke="#000" stroke-width="2.2" stroke-linecap="butt"/>
<line x1="179.44" y1="653.7" x2="179.44" y2="657.9" stroke="#000" stroke-width="2.2" stroke-linecap="butt"/>
<line x1="201.71" y1="476.1" x2="201.71" y2="478.3" stroke="#000" stroke-width="2.2" stroke-linecap="butt"/>
<line x1="201.71" y1="655.7" x2="201.71" y2="657.9" stroke="#000" stroke-width="2.2" stroke-linecap="butt"/>
<line x1="223.98" y1="476.1" x2="223.98" y2="480.3" stroke="#000" stroke-width="2.2" stroke-linecap="butt"/>
<line x1="223.98" y1="653.7" x2="223.98" y2="657.9" stroke="#000" stroke-width="2.2" stroke-linecap="butt"/>
<line x1="246.25" y1="476.1" x2="246.25" y2="478.3" stroke="#000" stroke-width="2.2" stroke-linecap="butt"/>
<line x1="246.25" y1="655.7" x2="246.25" y2="657.9" stroke="#000" stroke-width="2.2" stroke-linecap="butt"/>
<line x1="268.52" y1="476.1" x2="268.52" y2="480.3" stroke="#000" stroke-width="2.2" stroke-linecap="butt"/>
<line x1="268.52" y1="653.7" x2="268.52" y2="657.9" stroke="#000" stroke-width="2.2" stroke-linecap="butt"/>
<line x1="290.79" y1="476.1" x2="290.79" y2="478.3" stroke="#000" stroke-width="2.2" stroke-linecap="butt"/>
<line x1="290.79" y1="655.7" x2="290.79" y2="657.9" stroke="#000" stroke-width="2.2" stroke-linecap="butt"/>
<line x1="313.06" y1="476.1" x2="313.06" y2="480.3" stroke="#000" stroke-width="2.2" stroke-linecap="butt"/>
<line x1="313.06" y1="653.7" x2="313.06" y2="657.9" stroke="#000" stroke-width="2.2" stroke-linecap="butt"/>
<line x1="335.33" y1="476.1" x2="335.33" y2="478.3" stroke="#000" stroke-width="2.2" stroke-linecap="butt"/>
<line x1="335.33" y1="655.7" x2="335.33" y2="657.9" stroke="#000" stroke-width="2.2" stroke-linecap="butt"/>
<line x1="134.9" y1="635.17" x2="137.1" y2="635.17" stroke="#000" stroke-width="2.2" stroke-linecap="butt"/>
<line x1="355.4" y1="635.17" x2="357.6" y2="635.17" stroke="#000" stroke-width="2.2" stroke-linecap="butt"/>
<line x1="134.9" y1="612.45" x2="139.1" y2="612.45" stroke="#000" stroke-width="2.2" stroke-linecap="butt"/>
<line x1="353.4" y1="612.45" x2="357.6" y2="612.45" stroke="#000" stroke-width="2.2" stroke-linecap="butt"/>
<line x1="134.9" y1="589.73" x2="137.1" y2="589.73" stroke="#000" stroke-width="2.2" stroke-linecap="butt"/>
<line x1="355.4" y1="589.73" x2="357.6" y2="589.73" stroke="#000" stroke-width="2.2" stroke-linecap="butt"/>
<line x1="134.9" y1="567" x2="139.1" y2="567" stroke="#000" stroke-width="2.2" stroke-linecap="butt"/>
<line x1="353.4" y1="567" x2="357.6" y2="567" stroke="#000" stroke-width="2.2" stroke-linecap="butt"/>
<line x1="134.9" y1="544.27" x2="137.1" y2="544.27" stroke="#000" stroke-width="2.2" stroke-linecap="butt"/>
<line x1="355.4" y1="544.27" x2="357.6" y2="544.27" stroke="#000" stroke-width="2.2" stroke-linecap="butt"/>
<line x1="134.9" y1="521.55" x2="139.1" y2="521.55" stroke="#000" stroke-width="2.2" stroke-linecap="butt"/>
<line x1="353.4" y1="521.55" x2="357.6" y2="521.55" stroke="#000" stroke-width="2.2" stroke-linecap="butt"/>
<line x1="134.9" y1="498.83" x2="137.1" y2="498.83" stroke="#000" stroke-width="2.2" stroke-linecap="butt"/>
<line x1="355.4" y1="498.83" x2="357.6" y2="498.83" stroke="#000" stroke-width="2.2" stroke-linecap="butt"/>
<path d="M142.9,656.1 C143.67,655.77 145.9,654.75 147.5,654.1 C149.1,653.45 150.22,652.87 152.5,652.2 C154.78,651.53 157.67,650.92 161.2,650.1 C164.73,649.28 168.7,648.35 173.7,647.3 C178.7,646.25 185.37,644.87 191.2,643.8 C197.03,642.73 203.07,641.75 208.7,640.9 C214.33,640.05 220.83,639.25 225,638.7 C229.17,638.15 230.78,637.92 233.7,637.6 C236.62,637.28 239.87,636.98 242.5,636.8 C245.13,636.62 247.32,636.52 249.5,636.5 C251.68,636.48 253.42,636.55 255.6,636.7 C257.78,636.85 260.42,637.12 262.6,637.4 C264.78,637.68 266.82,638 268.7,638.4 C270.58,638.8 272.15,639.23 273.9,639.8 C275.65,640.37 277.58,641.08 279.2,641.8 C280.82,642.52 282.28,643.27 283.6,644.1 C284.92,644.93 286.08,645.85 287.1,646.8 C288.12,647.75 289,648.78 289.7,649.8 C290.4,650.82 290.88,651.83 291.3,652.9 C291.72,653.97 292.05,655.65 292.2,656.2" fill="none" stroke="#ff8205" stroke-width="2.85" stroke-linecap="round" stroke-linejoin="round"/>
<line x1="143.76" y1="652.25" x2="150.74" y2="649.45" stroke="#078307" stroke-width="2.85" stroke-linecap="round"/>
<circle cx="159.9" cy="644.7" r="1.57" fill="#078307"/>
<circle cx="168.7" cy="640.3" r="1.57" fill="#078307"/>
<line x1="177.34" y1="635.51" x2="183.96" y2="632.39" stroke="#078307" stroke-width="2.85" stroke-linecap="round"/>
<circle cx="193.1" cy="627.9" r="1.57" fill="#078307"/>
<circle cx="201.7" cy="623.6" r="1.57" fill="#078307"/>
<line x1="210.75" y1="619.23" x2="218.35" y2="615.87" stroke="#078307" stroke-width="2.85" stroke-linecap="round"/>
<circle cx="227" cy="611.6" r="1.57" fill="#078307"/>
<circle cx="236.7" cy="607.7" r="1.57" fill="#078307"/>
<line x1="245.66" y1="603.76" x2="253.14" y2="600.84" stroke="#078307" stroke-width="2.85" stroke-linecap="round"/>
<line x1="260.58" y1="598.11" x2="268.72" y2="595.39" stroke="#078307" stroke-width="2.85" stroke-linecap="round"/>
<path d="M277.3,592.8 C278.08,592.58 280.43,591.9 282,591.5 C283.57,591.1 285.2,590.68 286.7,590.4 C288.2,590.12 289.57,589.97 291,589.8 C292.43,589.63 294.58,589.47 295.3,589.4" fill="none" stroke="#078307" stroke-width="2.85" stroke-linecap="round" stroke-linejoin="round"/>
<line x1="303.51" y1="589.98" x2="306.29" y2="590.52" stroke="#078307" stroke-width="2.85" stroke-linecap="round"/>
<line x1="313.07" y1="592.31" x2="315.03" y2="593.59" stroke="#078307" stroke-width="2.85" stroke-linecap="round"/>
<path d="M318.9,601.6 C319.02,601.83 319.4,602.6 319.6,603 C319.8,603.4 320.02,603.83 320.1,604" fill="none" stroke="#078307" stroke-width="2.85" stroke-linecap="round" stroke-linejoin="round"/>
<line x1="151.16" y1="645.77" x2="153.24" y2="644.33" stroke="#c9060f" stroke-width="2.85" stroke-linecap="round"/>
<line x1="159.74" y1="638.85" x2="161.76" y2="637.35" stroke="#c9060f" stroke-width="2.85" stroke-linecap="round"/>
<line x1="168.57" y1="631.89" x2="170.93" y2="630.31" stroke="#c9060f" stroke-width="2.85" stroke-linecap="round"/>
<line x1="177.76" y1="624.97" x2="180.14" y2="623.33" stroke="#c9060f" stroke-width="2.85" stroke-linecap="round"/>
<line x1="186.46" y1="618.37" x2="189.34" y2="616.33" stroke="#c9060f" stroke-width="2.85" stroke-linecap="round"/>
<line x1="195.67" y1="611.79" x2="198.03" y2="610.21" stroke="#c9060f" stroke-width="2.85" stroke-linecap="round"/>
<line x1="204.38" y1="605.3" x2="206.82" y2="603.7" stroke="#c9060f" stroke-width="2.85" stroke-linecap="round"/>
<line x1="213.17" y1="598.69" x2="215.13" y2="597.41" stroke="#c9060f" stroke-width="2.85" stroke-linecap="round"/>
<line x1="222.73" y1="592.03" x2="226.97" y2="588.77" stroke="#c9060f" stroke-width="2.85" stroke-linecap="round"/>
<line x1="234.15" y1="584.16" x2="236.15" y2="582.74" stroke="#c9060f" stroke-width="2.85" stroke-linecap="round"/>
<line x1="243.4" y1="577.23" x2="246.6" y2="575.37" stroke="#c9060f" stroke-width="2.85" stroke-linecap="round"/>
<line x1="253.39" y1="570.22" x2="255.81" y2="568.78" stroke="#c9060f" stroke-width="2.85" stroke-linecap="round"/>
<line x1="262.57" y1="564.09" x2="271.13" y2="558.51" stroke="#c9060f" stroke-width="2.85" stroke-linecap="round"/>
<line x1="277.38" y1="554.1" x2="280.22" y2="552.3" stroke="#c9060f" stroke-width="2.85" stroke-linecap="round"/>
<line x1="285.61" y1="548.25" x2="288.49" y2="546.65" stroke="#c9060f" stroke-width="2.85" stroke-linecap="round"/>
<line x1="295.51" y1="542.36" x2="300.29" y2="539.74" stroke="#c9060f" stroke-width="2.85" stroke-linecap="round"/>
<line x1="307.84" y1="535.32" x2="310.56" y2="534.08" stroke="#c9060f" stroke-width="2.85" stroke-linecap="round"/>
<line x1="317.64" y1="530.42" x2="320.36" y2="529.18" stroke="#c9060f" stroke-width="2.85" stroke-linecap="round"/>
<line x1="328.5" y1="526.58" x2="331.6" y2="525.82" stroke="#c9060f" stroke-width="2.85" stroke-linecap="round"/>
<line x1="151.01" y1="644.11" x2="157.49" y2="638.69" stroke="#0667ad" stroke-width="2.85" stroke-linecap="round"/>
<line x1="170.23" y1="627.94" x2="177.07" y2="622.66" stroke="#0667ad" stroke-width="2.85" stroke-linecap="round"/>
<line x1="182.93" y1="617.44" x2="189.77" y2="612.16" stroke="#0667ad" stroke-width="2.85" stroke-linecap="round"/>
<line x1="202.12" y1="601.72" x2="208.58" y2="596.58" stroke="#0667ad" stroke-width="2.85" stroke-linecap="round"/>
<line x1="221.02" y1="586.32" x2="233.08" y2="576.48" stroke="#0667ad" stroke-width="2.85" stroke-linecap="round"/>
<line x1="245.02" y1="567.01" x2="252.38" y2="560.99" stroke="#0667ad" stroke-width="2.85" stroke-linecap="round"/>
<line x1="264.71" y1="551.3" x2="274.69" y2="542.9" stroke="#0667ad" stroke-width="2.85" stroke-linecap="round"/>
<line x1="286.53" y1="532.83" x2="302.27" y2="520.67" stroke="#0667ad" stroke-width="2.85" stroke-linecap="round"/>
<line x1="314.55" y1="509.96" x2="321.45" y2="504.94" stroke="#0667ad" stroke-width="2.85" stroke-linecap="round"/>
<line x1="333.73" y1="494.83" x2="341.17" y2="489.07" stroke="#0667ad" stroke-width="2.85" stroke-linecap="round"/>
<line x1="353.47" y1="478.79" x2="356.83" y2="476.61" stroke="#0667ad" stroke-width="2.85" stroke-linecap="round"/>
<text x="134.9" y="675.6" font-size="16" text-anchor="middle" font-weight="bold" stroke="#000" stroke-width="0.3">0</text>
<text x="179.44" y="675.6" font-size="16" text-anchor="middle" font-weight="bold" stroke="#000" stroke-width="0.3">5</text>
<text x="223.98" y="675.6" font-size="16" text-anchor="middle" font-weight="bold" stroke="#000" stroke-width="0.3">10</text>
<text x="268.52" y="675.6" font-size="16" text-anchor="middle" font-weight="bold" stroke="#000" stroke-width="0.3">15</text>
<text x="313.06" y="675.6" font-size="16" text-anchor="middle" font-weight="bold" stroke="#000" stroke-width="0.3">20</text>
<text x="357.6" y="675.6" font-size="16" text-anchor="middle" font-weight="bold" stroke="#000" stroke-width="0.3">25</text>
<text x="130" y="617.15" font-size="16" text-anchor="end" font-weight="bold" stroke="#000" stroke-width="0.3">5</text>
<text x="130" y="571.7" font-size="16" text-anchor="end" font-weight="bold" stroke="#000" stroke-width="0.3">10</text>
<text x="130" y="526.25" font-size="16" text-anchor="end" font-weight="bold" stroke="#000" stroke-width="0.3">15</text>
<text x="130" y="480.8" font-size="16" text-anchor="end" font-weight="bold" stroke="#000" stroke-width="0.3">20</text>
<text x="249.5" y="695" font-size="17.3" text-anchor="middle" font-weight="bold" stroke="#000" stroke-width="0.3">q (MeV)</text>
<text transform="translate(108.3,566.9) rotate(-90)" font-size="17.7" text-anchor="middle" font-weight="bold" stroke="#000" stroke-width="0.3">q<tspan font-size="13.1" dy="4.2">0</tspan><tspan dy="-4.2"> (MeV)</tspan></text>
<text x="181.4" y="504.0" font-size="14.8" font-weight="bold" stroke="#000" stroke-width="0.25">&#961;<tspan font-size="11.3" dy="3.6">B</tspan><tspan dy="-3.6">/&#961;</tspan><tspan font-size="11.3" dy="3.6">0</tspan></text>
<text x="235.2" y="505.6" font-size="13" text-anchor="start" font-weight="bold" stroke="#000" stroke-width="0.25">NL3w03</text>
<line x1="155.03" y1="520" x2="182.27" y2="520" stroke="#ff8205" stroke-width="2.85" stroke-linecap="round"/>
<line x1="155.03" y1="536.1" x2="163.97" y2="536.1" stroke="#078307" stroke-width="2.85" stroke-linecap="round"/>
<circle cx="173.2" cy="536.1" r="1.53" fill="#078307"/>
<circle cx="182" cy="536.1" r="1.53" fill="#078307"/>
<line x1="155.03" y1="551.4" x2="158.77" y2="551.4" stroke="#c9060f" stroke-width="2.85" stroke-linecap="round"/>
<line x1="165.62" y1="551.4" x2="169.77" y2="551.4" stroke="#c9060f" stroke-width="2.85" stroke-linecap="round"/>
<line x1="176.93" y1="551.4" x2="181.17" y2="551.4" stroke="#c9060f" stroke-width="2.85" stroke-linecap="round"/>
<line x1="155.03" y1="566.8" x2="165.17" y2="566.8" stroke="#0667ad" stroke-width="2.85" stroke-linecap="round"/>
<line x1="179.53" y1="566.8" x2="181.97" y2="566.8" stroke="#0667ad" stroke-width="2.85" stroke-linecap="round"/>
<text x="191.7" y="525" font-size="13.3" text-anchor="start" font-weight="bold" letter-spacing="-0.45" stroke="#000" stroke-width="0.25">1.3</text>
<text x="191.7" y="540.7" font-size="13.3" text-anchor="start" font-weight="bold" letter-spacing="-0.45" stroke="#000" stroke-width="0.25">1.6</text>
<text x="191.7" y="556" font-size="13.3" text-anchor="start" font-weight="bold" letter-spacing="-0.45" stroke="#000" stroke-width="0.25">2.0</text>
<text x="191.7" y="571.3" font-size="13.3" text-anchor="start" font-weight="bold" letter-spacing="-0.45" stroke="#000" stroke-width="0.25">2.25</text>
</svg>
</body></html>
